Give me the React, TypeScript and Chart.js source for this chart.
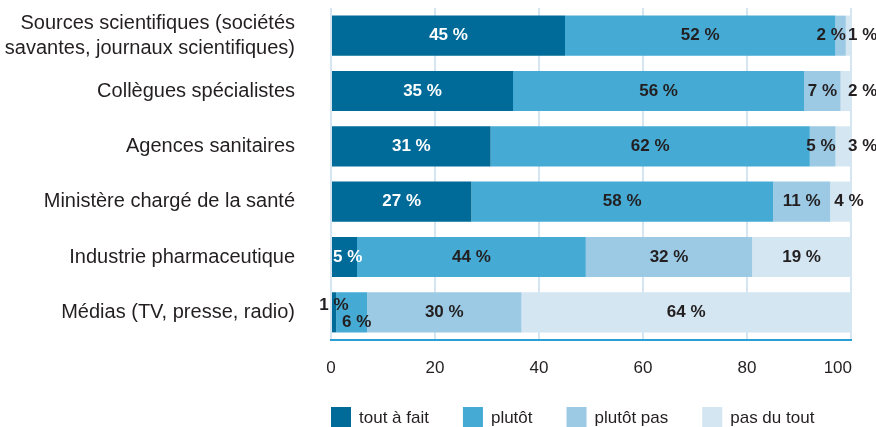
import React, { useEffect, useRef } from 'react';
import { Chart, registerables } from 'chart.js';

Chart.register(...registerables);

const categories: (string | string[])[] = [
  ['Sources scientifiques (sociétés', 'savantes, journaux scientifiques)'],
  'Collègues spécialistes',
  'Agences sanitaires',
  'Ministère chargé de la santé',
  'Industrie pharmaceutique',
  'Médias (TV, presse, radio)',
];
const seriesNames = ['tout à fait', 'plutôt', 'plutôt pas', 'pas du tout'];
const toutAFait = [45, 35, 31, 27, 5, 1];
const plutot = [52, 56, 62, 58, 44, 6];
const plutotPas = [2, 7, 5, 11, 32, 30];
const pasDuTout = [1, 2, 3, 4, 19, 64];
const xTicks = [0, 20, 40, 60, 80, 100];

const colors = ['#006b99', '#45aad4', '#9ccae4', '#d4e6f2'];
const labelColors = ['#ffffff', '#231f20', '#231f20', '#231f20'];
const FONT = "'Liberation Sans', Arial, Helvetica, sans-serif";
const TEXT = '#231f20';

const raw = [toutAFait, plutot, plutotPas, pasDuTout];
const rowTotals = categories.map((_, j) => raw.reduce((s, arr) => s + arr[j], 0));
const normalized = raw.map((arr) => arr.map((v, j) => (v / rowTotals[j]) * 100));

const dataLabels = {
  id: 'dataLabels',
  afterDatasetsDraw(chart: any) {
    const ctx = chart.ctx;
    ctx.save();
    ctx.font = `bold 17px ${FONT}`;
    ctx.textBaseline = 'middle';
    const last = raw.length - 1;
    for (let j = 0; j < categories.length; j++) {
      const f = chart.getDatasetMeta(0).data[j];
      const firstW = Math.abs(f.x - f.base);
      const barEnd = chart.getDatasetMeta(last).data[j].x;
      for (let i = 0; i < raw.length; i++) {
        const el = chart.getDatasetMeta(i).data[j];
        const left = Math.min(el.x, el.base);
        const right = Math.max(el.x, el.base);
        const w = right - left;
        const text = raw[i][j] + ' %';
        const tw = ctx.measureText(text).width;
        let x = (left + right) / 2;
        let y = el.y;
        let align = 'center';
        let color = labelColors[i];
        if (i === 1 && firstW < 10) {
          x = (left + right) / 2 + 5;
          y = el.y + 10;
        } else if (tw + 2 > w) {
          if (i === 0) {
            if (w < 10) {
              x = left + 2;
              y = el.y - 7;
              color = TEXT;
            } else {
              x = left + 1;
              align = 'left';
            }
          } else if (i === last) {
            align = 'left';
            x = w >= 18 ? left + 4 : barEnd - 3;
          } else {
            x = right;
            align = 'right';
          }
        }
        ctx.fillStyle = color;
        ctx.textAlign = align;
        ctx.fillText(text, x, y);
      }
    }
    ctx.restore();
  },
};

const extras = {
  id: 'extras',
  afterDraw(chart: any) {
    const ctx = chart.ctx;
    const xs = chart.scales.x;
    ctx.save();
    ctx.font = `17px ${FONT}`;
    ctx.fillStyle = TEXT;
    ctx.textBaseline = 'middle';
    xTicks.forEach((t, k) => {
      const px = xs.getPixelForValue(t);
      const isLast = k === xTicks.length - 1;
      ctx.textAlign = isLast ? 'right' : 'center';
      ctx.fillText(String(t), isLast ? px + 1 : px, 368);
    });
    let x = chart.chartArea.left;
    const y = 407;
    ctx.textAlign = 'left';
    seriesNames.forEach((name, i) => {
      ctx.fillStyle = colors[i];
      ctx.fillRect(x, y, 20, 20);
      ctx.fillStyle = TEXT;
      ctx.fillText(name, x + 28, y + 11);
      x += 28 + ctx.measureText(name).width + 34;
    });
    ctx.restore();
  },
};

export default function App() {
  const ref = useRef<HTMLCanvasElement>(null);
  useEffect(() => {
    if (!ref.current) return;
    const chart = new Chart(ref.current, {
      type: 'bar',
      data: {
        labels: categories,
        datasets: seriesNames.map((name, i) => ({
          label: name,
          data: normalized[i],
          backgroundColor: colors[i],
          borderWidth: 0,
          barPercentage: 0.725,
          categoryPercentage: 1,
        })),
      },
      options: {
        indexAxis: 'y',
        responsive: false,
        animation: false,
        layout: { padding: { left: 0, right: 25, top: 8, bottom: 0 } },
        plugins: {
          legend: { display: false },
          tooltip: { enabled: false },
        },
        scales: {
          x: {
            stacked: true,
            min: 0,
            max: 100,
            ticks: { display: false, stepSize: 20 },
            grid: { color: '#d5e6f2', lineWidth: 2, drawTicks: false },
            border: { display: true, color: '#2a9fd6', width: 2 },
            afterFit: (s: any) => {
              s.height = 87;
              s.paddingLeft = 0;
              s.paddingRight = 0;
            },
          },
          y: {
            stacked: true,
            grid: { display: false, drawTicks: false },
            border: { display: false },
            ticks: {
              color: TEXT,
              padding: 36,
              autoSkip: false,
              font: { family: FONT, size: 20, lineHeight: 1.25 },
            },
            afterFit: (s: any) => {
              s.width = 331;
              s.paddingTop = 0;
              s.paddingBottom = 0;
            },
          },
        },
      },
      plugins: [dataLabels, extras],
    });
    return () => chart.destroy();
  }, []);
  return (
    <div style={{ position: 'fixed', left: 0, top: 0, width: 876, height: 427, background: '#fff' }}>
      <canvas ref={ref} width={876} height={427} />
    </div>
  );
}
